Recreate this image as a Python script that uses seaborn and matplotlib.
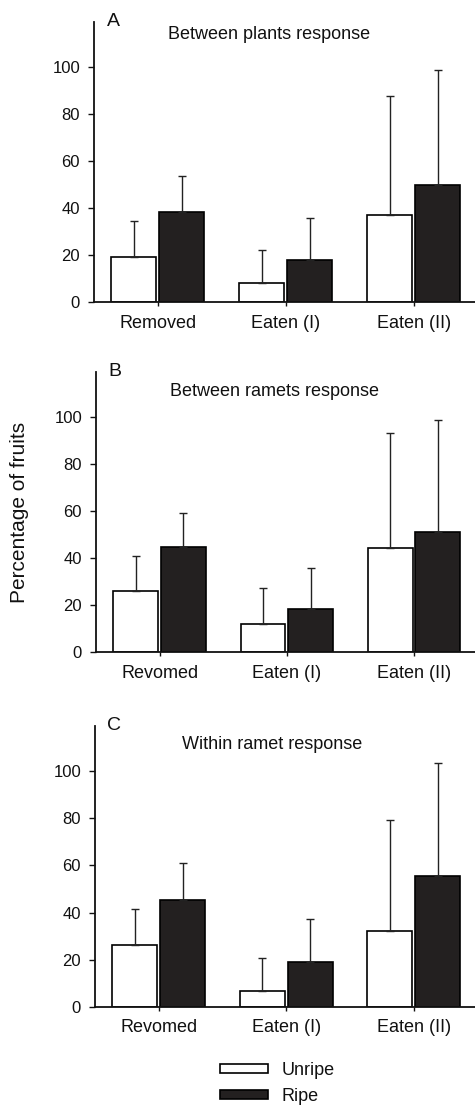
import pandas as pd
import matplotlib
matplotlib.use("Agg")
import matplotlib.pyplot as plt
import seaborn as sns

# Values (mean and upward SD)
responses = ["Unripe", "Ripe"]
cats_a = ["Removed", "Eaten (I)", "Eaten (II)"]
cats_bc = ["Revomed", "Eaten (I)", "Eaten (II)"]

a_unripe = [19.2, 8.2, 36.9]
a_unripe_sd = [15.4, 14.1, 50.8]
a_ripe = [38.1, 17.9, 49.9]
a_ripe_sd = [15.4, 17.6, 48.7]

b_unripe = [26.0, 11.8, 44.2]
b_unripe_sd = [14.6, 15.3, 49.0]
b_ripe = [44.5, 18.1, 50.9]
b_ripe_sd = [14.6, 17.6, 47.8]

c_unripe = [26.1, 6.8, 32.2]
c_unripe_sd = [15.2, 13.8, 47.2]
c_ripe = [45.5, 18.9, 55.3]
c_ripe_sd = [15.3, 18.3, 48.2]

panels = [
    ("A", "Between plants response", cats_a, a_unripe, a_unripe_sd, a_ripe, a_ripe_sd),
    ("B", "Between ramets response", cats_bc, b_unripe, b_unripe_sd, b_ripe, b_ripe_sd),
    ("C", "Within ramet response", cats_bc, c_unripe, c_unripe_sd, c_ripe, c_ripe_sd),
]

sns.set_style("ticks")
plt.rcParams["font.family"] = ["Liberation Sans", "DejaVu Sans"]
plt.rcParams["text.color"] = "#111111"

fig = plt.figure(figsize=(4.75, 11.06), dpi=100)
W, H = 475, 1106
# axes boxes in pixels: left, top, bottom
boxes = [(94, 22, 302), (96, 372, 652), (95, 726, 1007)]
title_pos = [(0.46, 0.954), (0.47, 0.932), (0.465, 0.933)]
palette = {"Unripe": "white", "Ripe": "#231f20"}

handles = labels = None
for (letter, title, cats, un, un_sd, ri, ri_sd), (l, t, b), (tx, ty) in zip(panels, boxes, title_pos):
    ax = fig.add_axes([l / W, 1 - b / H, (W - l) / W, (b - t) / H])
    df = pd.DataFrame({
        "category": cats * 2,
        "response": ["Unripe"] * 3 + ["Ripe"] * 3,
        "value": un + ri,
    })
    sd = {"Unripe": un_sd, "Ripe": ri_sd}
    sns.barplot(data=df, x="category", y="value", hue="response", order=cats,
                hue_order=responses, palette=palette, errorbar=None,
                width=0.75, gap=0.06, edgecolor="black", linewidth=1.2, ax=ax)
    for cont, resp in zip(ax.containers, responses):
        xs = [p.get_x() + p.get_width() / 2 for p in cont.patches]
        ys = [p.get_height() for p in cont.patches]
        ax.errorbar(xs, ys, yerr=[[0] * len(ys), sd[resp]], fmt="none",
                    ecolor="#222222", elinewidth=1.0, capsize=3, capthick=1.0, zorder=1)
    handles, labels = ax.get_legend_handles_labels()
    ax.get_legend().remove()

    ax.set_xlim(-0.5, 2.48)
    ax.set_ylim(0, 119)
    ax.set_yticks(range(0, 101, 20))
    ax.set_xlabel("")
    ax.set_ylabel("")
    sns.despine(ax=ax)
    for s in ["left", "bottom"]:
        ax.spines[s].set_linewidth(1.3)
        ax.spines[s].set_color("#111111")
    ax.tick_params(axis="y", length=4, width=1, labelsize=12, pad=6,
                   colors="#111111", labelcolor="#111111")
    ax.tick_params(axis="x", length=3, width=1, labelsize=13, pad=6,
                   colors="#111111", labelcolor="#111111")
    ax.text(0.05, 1.003, letter, transform=ax.transAxes, fontsize=14,
            ha="center", va="center")
    ax.text(tx, ty, title, transform=ax.transAxes, fontsize=13,
            ha="center", va="center")

fig.text(20 / W, 1 - 512 / H, "Percentage of fruits", rotation=90,
         ha="center", va="center", fontsize=15)

fig.legend(handles, labels, loc="upper left", bbox_to_anchor=(220 / W, 1 - 1062 / H),
           frameon=False, fontsize=13, handlelength=2.67, handleheight=0.4,
           handletextpad=0.75, labelspacing=0.5, borderpad=0, borderaxespad=0)

fig.savefig("out.png", dpi=100)
